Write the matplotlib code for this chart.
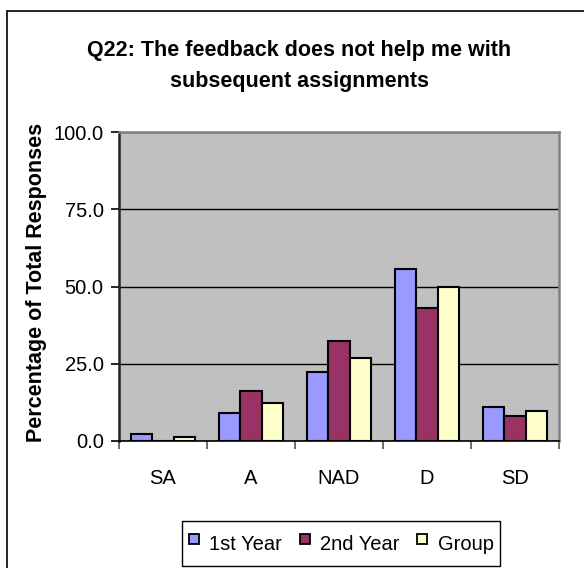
import matplotlib
matplotlib.use("Agg")
import matplotlib.pyplot as plt
import numpy as np
from matplotlib.patches import Rectangle
from matplotlib.lines import Line2D

categories = ["SA", "A", "NAD", "D", "SD"]
first_year = [2.2, 8.9, 22.2, 55.6, 11.1]
second_year = [0.0, 16.2, 32.4, 43.2, 8.1]
group = [1.2, 12.2, 26.8, 50.0, 9.8]
series_names = ["1st Year", "2nd Year", "Group"]
series_colors = ["#9999FF", "#993366", "#FFFFCC"]
y_ticks = [0, 25, 50, 75, 100]
title_lines = ["Q22: The feedback does not help me with", "subsequent assignments"]
y_title = "Percentage of Total Responses"

plt.rcParams["font.family"] = ["Liberation Sans", "DejaVu Sans"]

W, H = 584, 568
fig = plt.figure(figsize=(W / 100, H / 100), dpi=100)

# chart-area border; only its left and top edges fall inside the canvas
fig.patches.append(Rectangle((7 / W, -0.1), 1.2, 1 - 11 / H + 0.1,
                             transform=fig.transFigure, fill=False,
                             edgecolor="black", linewidth=1.2))

ax = fig.add_axes([119 / W, 1 - 441 / H, 440 / W, 309 / H])
ax.set_facecolor("#C0C0C0")

x = np.arange(len(categories))
w = 0.243
for i, (vals, name, col) in enumerate(zip([first_year, second_year, group],
                                          series_names, series_colors)):
    ax.bar(x + (i - 1) * w, vals, width=w, color=col, edgecolor="black",
           linewidth=1.5, label=name, zorder=3)

ax.set_xlim(-0.5, len(categories) - 0.5)
ax.set_ylim(0, 100)

ax.set_axisbelow(True)
ax.yaxis.grid(True, color="black", linewidth=1.0)

ax.set_yticks(y_ticks, [f"{v:.1f}" for v in y_ticks])
ax.tick_params(axis="y", direction="out", length=6, width=1.2, pad=5,
               labelsize=14.5, colors="black")

ax.set_xticks(np.arange(len(categories) + 1) - 0.5)
ax.set_xticklabels([])
ax.tick_params(axis="x", which="major", direction="out", length=6, width=1.2,
               color="#555555")
ax.set_xticks(x, minor=True)
ax.set_xticklabels(categories, minor=True)
ax.tick_params(axis="x", which="minor", length=0, pad=20, labelsize=14.5)

ax.spines["left"].set_color("#222222")
ax.spines["left"].set_linewidth(1.8)
ax.spines["bottom"].set_color("black")
ax.spines["bottom"].set_linewidth(1.2)
for s in ("top", "right"):
    ax.spines[s].set_color("#808080")
    ax.spines[s].set_linewidth(1.8)

fig.text(37 / W, 1 - 282.5 / H, y_title, rotation=90, ha="center",
         va="center", fontsize=15.5, fontweight="bold")

fig.text(299 / W, 1 - 56 / H, title_lines[0], ha="center", va="baseline",
         fontsize=15.5, fontweight="bold")
fig.text(299 / W, 1 - 87 / H, title_lines[1], ha="center", va="baseline",
         fontsize=15.5, fontweight="bold")

# square swatches for the legend
handles = [Line2D([], [], linestyle="none", marker="s", markersize=7,
                  markerfacecolor=c, markeredgecolor="black",
                  markeredgewidth=1.3) for c in series_colors]
leg = fig.legend(handles, series_names, loc="lower left",
                 bbox_to_anchor=(182 / W, 1 - 566 / H),
                 ncol=3, fontsize=14.5, frameon=True, fancybox=False,
                 edgecolor="black", framealpha=1, borderpad=0.3,
                 handlelength=0.55, handleheight=2.1, handletextpad=0.5,
                 columnspacing=0.85, borderaxespad=0)
leg.get_frame().set_linewidth(1.0)

fig.savefig("out.png", dpi=100)
